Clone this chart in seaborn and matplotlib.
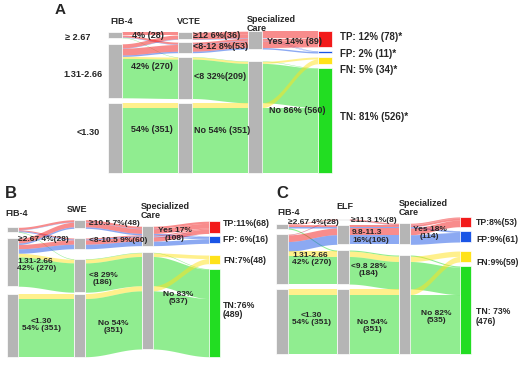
#!/usr/bin/env python
"""
Alluvial plots: FIB-4 -> second test -> specialized care -> outcome
"""
import numpy as np
import matplotlib
matplotlib.use('Agg')
import matplotlib.pyplot as plt
import seaborn as sns

# + data -----------------------------------------------------------------
outcomes = ['TP', 'FP', 'FN', 'TN']
care = ['Yes', 'No']
fib4 = ['≥ 2.67', '1.31-2.66', '<1.30']

# panel A (VCTE); one entry per alluvium
a_test = ['≥12', '<8-12', '<8', 'No']
a_fib_idx = [0, 0, 0, 0, 1, 1, 1, 1, 1, 1, 2, 2]
a_test_idx = [0, 1, 1, 2, 0, 0, 1, 1, 2, 2, 3, 3]
a_care_idx = [0, 0, 0, 1, 0, 0, 0, 0, 1, 1, 1, 1]
a_out_idx = [0, 0, 1, 3, 0, 1, 0, 1, 2, 3, 2, 3]
a_n = [14, 10, 2, 2, 20, 2, 34, 7, 10, 197, 24, 327]

# panel B (SWE)
b_test = ['≥10.5', '8-10.5', '<8', 'No']
b_fib_idx = [0, 0, 0, 0, 0, 1, 1, 1, 1, 1, 1, 2, 2]
b_test_idx = [0, 0, 1, 1, 2, 0, 0, 1, 1, 2, 2, 3, 3]
b_care_idx = [0, 0, 0, 0, 1, 0, 0, 0, 0, 1, 1, 1, 1]
b_out_idx = [0, 1, 0, 1, 3, 0, 1, 0, 1, 2, 3, 2, 3]
b_n = [12, 2, 6, 5, 3, 26, 8, 24, 25, 20, 163, 28, 323]

# panel C (ELF)
c_test = ['≥11.3', '9.8-11.3', '<9.8', 'No']
c_fib_idx = [0, 0, 0, 0, 1, 1, 1, 1, 1, 1, 2, 2]
c_test_idx = [0, 1, 1, 2, 0, 0, 1, 1, 2, 2, 3, 3]
c_care_idx = [0, 0, 0, 1, 0, 0, 0, 0, 1, 1, 1, 1]
c_out_idx = [0, 0, 1, 3, 0, 1, 0, 1, 2, 3, 2, 3]
c_n = [4, 10, 8, 6, 3, 1, 36, 52, 29, 149, 30, 321]

# labels
a_titles = ['FIB-4', 'VCTE', 'Specialized\nCare']
a_fib_labels = ['4% (28)', '42% (270)', '54% (351)']
a_test_labels = ['≥12 6%(36)', '<8-12 8%(53)', '<8 32%(209)', 'No 54% (351)']
a_care_labels = ['Yes 14% (89)', 'No 86% (560)']
a_out_labels = ['TP: 12% (78)*', 'FP: 2% (11)*', 'FN: 5% (34)*', 'TN: 81% (526)*']

b_titles = ['FIB-4', 'SWE', 'Specialized\nCare']
b_fib_labels = ['≥2.67 4%(28)', '1.31-2.66\n42% (270)', '<1.30\n54% (351)']
b_test_labels = ['≥10.5 7%(48)', '<8-10.5 9%(60)', '<8 29%\n(186)', 'No 54%\n(351)']
b_care_labels = ['Yes 17%\n(108)', 'No 83%\n(537)']
b_out_labels = ['TP:11%(68)', 'FP: 6%(16)', 'FN:7%(48)', 'TN:76%\n(489)']

c_titles = ['FIB-4', 'ELF', 'Specialized\nCare']
c_fib_labels = ['≥2.67 4%(28)', '1.31-2.66\n42% (270)', '<1.30\n54% (351)']
c_test_labels = ['≥11.3 1%(8)', '9.8-11.3\n16%(106)', '<9.8 28%\n(184)', 'No 54%\n(351)']
c_care_labels = ['Yes 18%\n(114)', 'No 82%\n(535)']
c_out_labels = ['TP:8%(53)', 'FP:9%(61)', 'FN:9%(59)', 'TN: 73%\n(476)']

# + style / layout (pixels) ------------------------------------------------
W, H = 520, 365
OUT_COLORS = ['#f21a1a', '#1a55e6', '#ffe21a', '#22dd22']
GRAY = '#b5b5b5'

A_LAY = dict(x0=108, dx=70, w=14, bottom=173, k=0.20,
             gaps=[[6, 5], [2.7, 4, 4.3], [12], [4, 4, 4]], lift=[0, 0, 0, 0],
             fs=6.5, out_fs=7.0)
B_LAY = dict(x0=7, dx=67.3, w=11, bottom=356.7, k=0.18,
             gaps=[[6, 7.3], [9.6, 10, 1.3], [6.7], [2.7, 11.7, 5]], lift=[0, 0, 7.7, 0],
             fs=6.0, out_fs=6.3)
C_LAY = dict(x0=276, dx=61.3, w=11.5, bottom=354, k=0.185,
             gaps=[[5, 5], [4.3, 5.7, 5], [10.7], [4, 9, 4]], lift=[0, 0, 0, 0],
             fs=6.0, out_fs=6.2)

# (dx from node right edge, dy from node centre, line alignment), pixels
A_POS = [[(10, 1, 'center'), (9, -4, 'center'), (9, -8, 'center')],
         [(1, -0.8, 'center'), (1, -0.6, 'center'), (2, -1.2, 'center'), (2, -7.2, 'center')],
         [(5, 1.6, 'center'), (7, -6.3, 'center')],
         [(8, -1.7, 'left'), (8, 2.4, 'left'), (8, 10, 'left'), (8, -3.7, 'left')]]
B_POS = [[(0.3, 9.2, 'left'), (-0.7, 2.7, 'left'), (3.7, 0, 'center')],
         [(3.3, -0.7, 'center'), (3.3, -3, 'center'), (3.3, 3.5, 'center'), (13, 1.6, 'center')],
         [(5.5, -1.4, 'center'), (10.8, -2.7, 'center')],
         [(3.2, -4, 'left'), (3.2, 0.2, 'left'), (3.2, 1, 'left'), (3.2, -2.7, 'left')]]
C_POS = [[(0.8, -4, 'left'), (4.5, 0, 'left'), (4.2, -2.5, 'center')],
         [(2.2, 0.7, 'center'), (3.2, 2, 'left'), (2.2, 3, 'center'), (8.2, 4.2, 'center')],
         [(2.5, -0.8, 'center'), (11.2, 12.2, 'center')],
         [(4.5, 0.9, 'left'), (4.5, 3.6, 'left'), (4.5, 5.8, 'left'), (4.5, 6.7, 'left')]]
A_ROW_POS = [(-18, 2.5), (-5, 3.2), (-8, -5.2)]

A_TITLE_XY = [(110.7, 21.7), (177, 21.7), (246.7, 24)]
B_TITLE_XY = [(5, 213.3), (66.7, 210), (140.7, 211)]
C_TITLE_XY = [(277.3, 212.3), (336, 206.7), (399, 207.5)]


def ease(t):
    return (1 - np.cos(np.pi * t)) / 2


def draw_panel(fig, paths, n, labels, lay, pos):
    ax = fig.add_axes([0, 0, 1, 1])
    ax.set_xlim(-lay['x0'] / lay['dx'], (W - lay['x0']) / lay['dx'])
    ax.set_ylim((lay['bottom'] - H) / lay['k'], lay['bottom'] / lay['k'])
    ax.axis('off')
    ax.patch.set_visible(False)
    k = lay['k']
    w = lay['w'] / lay['dx']
    n = np.asarray(n, float)
    idx = [np.asarray(p) for p in paths]
    nax = len(idx)
    lode_top = np.zeros((nax, len(n)))
    strata = []
    for j in range(nax):
        m = idx[j].max() + 1
        vals = np.bincount(idx[j], weights=n, minlength=m)
        gaps = np.asarray(lay['gaps'][j], float) / k
        cur = lay['lift'][j] / k + vals.sum() + gaps.sum()
        tops = []
        for s in range(m):
            tops.append(cur)
            cur -= vals[s] + (gaps[s] if s < m - 1 else 0)
        tops = np.array(tops)
        strata.append((tops, vals))
        # lodes inside a stratum: sorted by this axis, then the nearest axes
        others = [j] + list(range(j - 1, -1, -1)) + list(range(j + 1, nax))
        order = sorted(range(len(n)), key=lambda p: tuple(idx[a][p] for a in others))
        fill = tops.copy()
        for p in order:
            s = idx[j][p]
            lode_top[j, p] = fill[s]
            fill[s] -= n[p]

    t = np.linspace(0, 1, 80)
    e = ease(t)
    for j in range(nax - 1):
        xs = j + w + (1 - w) * t
        for p in range(len(n)):
            y0, y1 = lode_top[j, p], lode_top[j + 1, p]
            top = y0 + (y1 - y0) * e
            ax.fill_between(xs, top - n[p], top, color=OUT_COLORS[idx[-1][p]],
                            alpha=0.5, lw=0, zorder=1)

    for j, (tops, vals) in enumerate(strata):
        colors = OUT_COLORS if j == nax - 1 else [GRAY] * len(vals)
        ax.bar(np.full(len(vals), j), vals, bottom=tops - vals, width=w, align='edge',
               color=colors, edgecolor='white', linewidth=0.5, zorder=2)

    for j in range(nax):
        tops, vals = strata[j]
        fs = lay['out_fs'] if j == nax - 1 else lay['fs']
        for s, txt in enumerate(labels[j]):
            ddx, ddy, ma = pos[j][s]
            ax.text(j + w + ddx / lay['dx'], tops[s] - vals[s] / 2 - ddy / k, txt,
                    ha='left', va='center', multialignment=ma, fontsize=fs,
                    fontweight='bold', linespacing=1.05, zorder=3)
    return ax, strata


sns.set_theme(style='white')
plt.rcParams['font.family'] = ['Liberation Sans', 'DejaVu Sans']

fig = plt.figure(figsize=(W / 100, H / 100), dpi=100)
fig.patch.set_facecolor('white')

ax_a, strata_a = draw_panel(fig, [a_fib_idx, a_test_idx, a_care_idx, a_out_idx], a_n,
                            [a_fib_labels, a_test_labels, a_care_labels, a_out_labels],
                            A_LAY, A_POS)
draw_panel(fig, [b_fib_idx, b_test_idx, b_care_idx, b_out_idx], b_n,
           [b_fib_labels, b_test_labels, b_care_labels, b_out_labels], B_LAY, B_POS)
draw_panel(fig, [c_fib_idx, c_test_idx, c_care_idx, c_out_idx], c_n,
           [c_fib_labels, c_test_labels, c_care_labels, c_out_labels], C_LAY, C_POS)

# FIB-4 cut-off labels on the left of panel A
tops, vals = strata_a[0]
for s, txt in enumerate(fib4):
    ddx, ddy = A_ROW_POS[s]
    ax_a.text(ddx / A_LAY['dx'], tops[s] - vals[s] / 2 - ddy / A_LAY['k'], txt,
              ha='right', va='center', fontsize=6.6, fontweight='bold')

for titles, xy in [(a_titles, A_TITLE_XY), (b_titles, B_TITLE_XY), (c_titles, C_TITLE_XY)]:
    for txt, (x, y) in zip(titles, xy):
        fig.text(x / W, 1 - y / H, txt, ha='left', va='center', fontsize=6.5,
                 fontweight='bold', linespacing=1.0)

for letter, (x, y), fs in [('A', (55, 10), 11), ('B', (5, 194), 12), ('C', (276, 194), 12)]:
    fig.text(x / W, 1 - y / H, letter, ha='left', va='center', fontsize=fs, fontweight='bold')

fig.savefig('out.png', dpi=100)
plt.close(fig)
